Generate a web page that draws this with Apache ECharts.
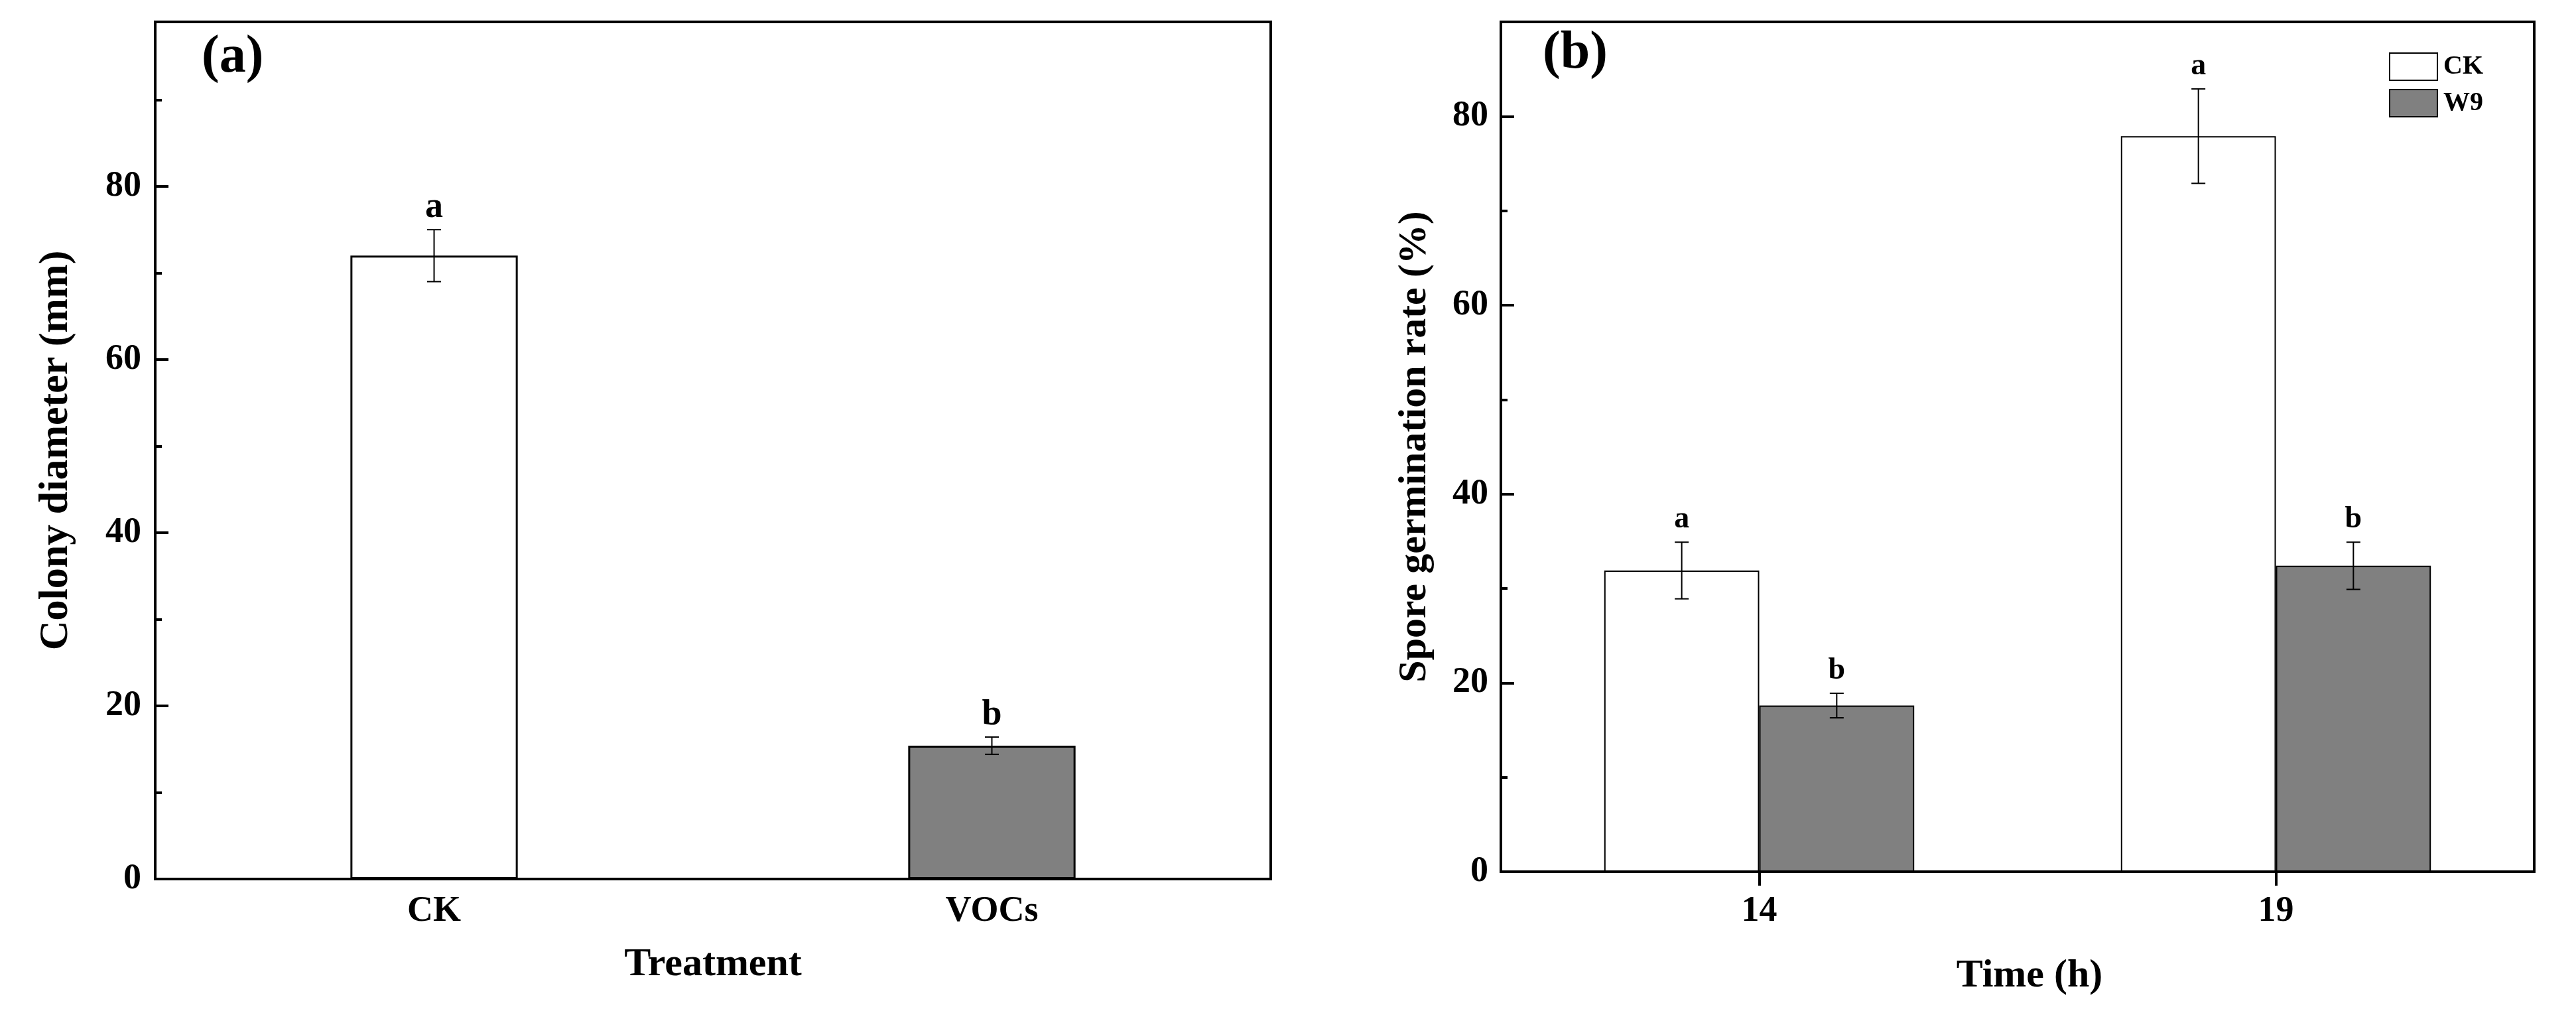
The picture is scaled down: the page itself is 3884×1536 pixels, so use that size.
<!DOCTYPE html>
<html>
<head>
<meta charset="utf-8">
<script src="https://cdn.jsdelivr.net/npm/echarts@6/dist/echarts.min.js"></script>
<style>
    html, body { margin: 0; padding: 0; background: #fff; }
    #chart { width: 3884px; height: 1536px; }
</style>
</head>
<body>
<div id="chart"></div>
<script>
    // (a) colony diameter
    var treatments = ['CK', 'VOCs'];
    var diameterMean = [72, 15.4];
    var diameterErr = [3, 1];
    var diameterLetters = ['a', 'b'];

    // (b) spore germination
    var hours = ['14', '19'];
    var ckRate = [31.9, 77.9];
    var ckErr = [3, 5];
    var ckLetters = ['a', 'a'];
    var w9Rate = [17.6, 32.4];
    var w9Err = [1.3, 2.5];
    var w9Letters = ['b', 'b'];

    var serif = '"Liberation Serif", "Times New Roman", serif';

    // error bar + significance letter, drawn through the axes
    function errorBar(letters, offset, letterSize, letterGap) {
        return function (params, api) {
            var x = api.value(0), mean = api.value(1), err = api.value(2);
            var band = api.size([1, 0])[0];
            var hi = api.coord([x, mean + err]);
            var lo = api.coord([x, mean - err]);
            var cx = hi[0] + offset * band;
            var line = { stroke: '#000', lineWidth: 2 };
            return {
                type: 'group',
                children: [
                    { type: 'line', shape: { x1: cx, y1: hi[1], x2: cx, y2: lo[1] }, style: line },
                    { type: 'line', shape: { x1: cx - 10.5, y1: hi[1], x2: cx + 10.5, y2: hi[1] }, style: line },
                    { type: 'line', shape: { x1: cx - 10.5, y1: lo[1], x2: cx + 10.5, y2: lo[1] }, style: line },
                    {
                        type: 'text', x: cx, y: hi[1] - letterGap,
                        style: {
                            text: letters[params.dataIndex], fill: '#000',
                            font: 'bold ' + letterSize + 'px ' + serif,
                            align: 'center', verticalAlign: 'bottom'
                        }
                    }
                ]
            };
        };
    }

    function toRows(means, errs) {
        return means.map(function (m, i) { return [i, m, errs[i]]; });
    }

    function majorY(grid, max, nameText, nameGap, labelMargin) {
        return {
            gridIndex: grid, type: 'value', position: 'left', min: 0, max: max, interval: 20,
            axisLine: { show: true, lineStyle: { color: '#000', width: 4 } },
            axisTick: { show: true, inside: true, length: 20, lineStyle: { color: '#000', width: 4 } },
            axisLabel: { showMaxLabel: false, margin: labelMargin, color: '#000', fontSize: 54, fontWeight: 'bold', fontFamily: serif },
            splitLine: { show: false },
            name: nameText, nameLocation: 'middle', nameGap: nameGap,
            nameTextStyle: { color: '#000', fontSize: nameGap > 110 ? 62 : 60, fontWeight: 'bold', fontFamily: serif }
        };
    }

    function minorY(grid, max) {
        return {
            gridIndex: grid, type: 'value', position: 'left', min: 0, max: max, interval: 10,
            axisLine: { show: false },
            axisTick: { show: true, inside: true, length: 10, lineStyle: { color: '#000', width: 4 } },
            axisLabel: { show: false },
            splitLine: { show: false }
        };
    }

    var chart = echarts.init(document.getElementById('chart'));

    var option = {
        animation: false,
        backgroundColor: '#fff',
        title: [
            { text: '(a)', left: 304, top: 47, padding: 0, textStyle: { color: '#000', fontSize: 80, fontWeight: 'bold', fontFamily: serif } },
            { text: '(b)', left: 2326, top: 41, padding: 0, textStyle: { color: '#000', fontSize: 80, fontWeight: 'bold', fontFamily: serif } }
        ],
        legend: {
            data: ['CK', 'W9'],
            orient: 'vertical',
            left: 3602, top: 79,
            padding: 0,
            icon: 'rect',
            itemWidth: 72, itemHeight: 41, itemGap: 12,
            textStyle: { color: '#000', fontSize: 40, fontWeight: 'bold', fontFamily: serif, padding: [0, 0, 0, 4] }
        },
        grid: [
            { left: 234, top: 33, width: 1682, height: 1292, show: true, borderWidth: 4, borderColor: '#000', backgroundColor: 'transparent' },
            { left: 2263, top: 33, width: 1558, height: 1281, show: true, borderWidth: 4, borderColor: '#000', backgroundColor: 'transparent' }
        ],
        xAxis: [
            {
                gridIndex: 0, type: 'category', data: treatments,
                axisLine: { lineStyle: { color: '#000', width: 4 } },
                axisTick: { show: false },
                axisLabel: { margin: 22, color: '#000', fontSize: 54, fontWeight: 'bold', fontFamily: serif },
                name: 'Treatment', nameLocation: 'middle', nameGap: 99,
                nameTextStyle: { color: '#000', fontSize: 60, fontWeight: 'bold', fontFamily: serif }
            },
            {
                gridIndex: 1, type: 'category', data: hours,
                axisLine: { lineStyle: { color: '#000', width: 4 } },
                axisTick: { show: true, alignWithLabel: true, length: 21, lineStyle: { color: '#000', width: 4 } },
                axisLabel: { margin: 33, color: '#000', fontSize: 54, fontWeight: 'bold', fontFamily: serif },
                name: 'Time (h)', nameLocation: 'middle', nameGap: 127,
                nameTextStyle: { color: '#000', fontSize: 60, fontWeight: 'bold', fontFamily: serif, padding: [0, 0, 0, 36] }
            }
        ],
        yAxis: [
            majorY(0, 99, 'Colony diameter (mm)', 118, 21),
            minorY(0, 99),
            majorY(1, 90, 'Spore germination rate (%)', 100, 19),
            minorY(1, 90)
        ],
        series: [
            {
                type: 'bar', xAxisIndex: 0, yAxisIndex: 0, barWidth: '30%',
                data: diameterMean.map(function (v, i) {
                    return { value: v, itemStyle: { color: i === 0 ? '#fff' : '#808080' } };
                }),
                itemStyle: { borderColor: '#000', borderWidth: 3 }
            },
            {
                type: 'custom', xAxisIndex: 0, yAxisIndex: 0, z: 5,
                renderItem: errorBar(diameterLetters, 0, 54, 6),
                encode: { x: 0, y: 1 },
                data: toRows(diameterMean, diameterErr)
            },
            {
                name: 'CK', type: 'bar', xAxisIndex: 1, yAxisIndex: 2, barWidth: '30%', barGap: '0%',
                data: ckRate,
                itemStyle: { color: '#fff', borderColor: '#000', borderWidth: 2 }
            },
            {
                name: 'W9', type: 'bar', xAxisIndex: 1, yAxisIndex: 2, barWidth: '30%', barGap: '0%',
                data: w9Rate,
                itemStyle: { color: '#808080', borderColor: '#000', borderWidth: 2 }
            },
            {
                type: 'custom', xAxisIndex: 1, yAxisIndex: 2, z: 5,
                renderItem: errorBar(ckLetters, -0.15, 46, 11),
                encode: { x: 0, y: 1 },
                data: toRows(ckRate, ckErr)
            },
            {
                type: 'custom', xAxisIndex: 1, yAxisIndex: 2, z: 5,
                renderItem: errorBar(w9Letters, 0.15, 46, 11),
                encode: { x: 0, y: 1 },
                data: toRows(w9Rate, w9Err)
            }
        ]
    };

    chart.setOption(option);
</script>
</body>
</html>
